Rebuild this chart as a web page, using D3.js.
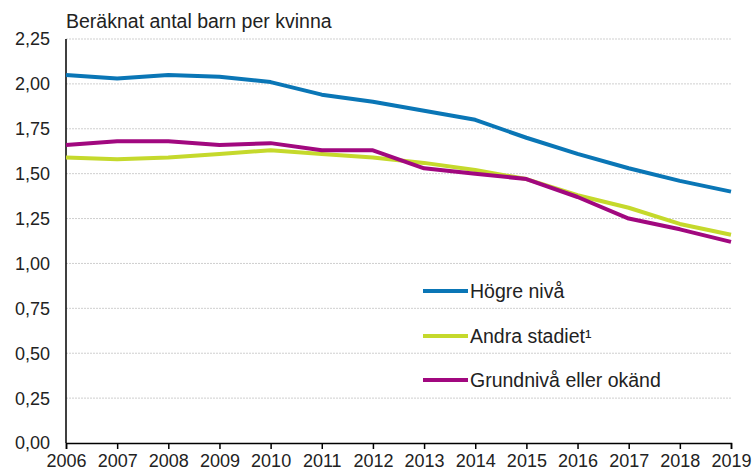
<!DOCTYPE html>
<html>
<head>
<meta charset="utf-8">
<script src="https://cdn.jsdelivr.net/npm/d3@7"></script>
<style>
  body { margin: 0; background: #fff; }
  text { font-family: "Liberation Sans", Arial, sans-serif; fill: #222; }
</style>
</head>
<body>
<svg id="chart"></svg>
<script>
var width = 755, height = 474

var years = [2006, 2007, 2008, 2009, 2010, 2011, 2012, 2013, 2014, 2015, 2016, 2017, 2018, 2019]
var hogre = [2.05, 2.03, 2.05, 2.04, 2.01, 1.94, 1.90, 1.85, 1.80, 1.70, 1.61, 1.53, 1.46, 1.40]
var andra = [1.59, 1.58, 1.59, 1.61, 1.63, 1.61, 1.59, 1.56, 1.52, 1.47, 1.38, 1.31, 1.22, 1.16]
var grund = [1.66, 1.68, 1.68, 1.66, 1.67, 1.63, 1.63, 1.53, 1.50, 1.47, 1.37, 1.25, 1.19, 1.12]
var seriesNames = ["Högre nivå", "Andra stadiet¹", "Grundnivå eller okänd"]
var seriesColors = ["#0a76b6", "#c5d92c", "#a1087f"]
var yTicks = [0, 0.25, 0.5, 0.75, 1, 1.25, 1.5, 1.75, 2, 2.25]

var svg = d3.select("#chart")
    .attr("width", width)
    .attr("height", height)

var x = d3.scaleLinear()
    .domain([2006, 2019])
    .range([66, 731])

var y = d3.scaleLinear()
    .domain([0, 2.25])
    .range([443, 39])

var fmt = function (d) { return d3.format(".2f")(d).replace(".", ",") }

// grid
svg.append("g")
    .selectAll("line")
    .data(yTicks.slice(1))
    .enter()
    .append("line")
    .attr("x1", 66)
    .attr("x2", 731)
    .attr("y1", d => y(d))
    .attr("y2", d => y(d))
    .attr("stroke", "#cfcfcf")
    .attr("stroke-width", 1)
    .attr("stroke-dasharray", "2,1")

// y labels
svg.append("g")
    .selectAll("text")
    .data(yTicks)
    .enter()
    .append("text")
    .attr("x", 50)
    .attr("y", d => y(d))
    .attr("dy", "0.36em")
    .attr("text-anchor", "end")
    .style("font-size", "18px")
    .text(fmt)

// x axis
var xAxis = svg.append("g")
    .attr("transform", "translate(0,443)")
    .call(d3.axisBottom(x).tickValues(years).tickFormat(d3.format("d")).tickSize(6).tickPadding(5))
xAxis.select(".domain").attr("stroke", "#000").attr("stroke-width", 1.5)
xAxis.selectAll(".tick line").attr("stroke", "#000").attr("stroke-width", 1.5)
xAxis.selectAll("text")
    .style("font-size", "18px")
    .style("font-family", "Liberation Sans, Arial, sans-serif")
    .attr("fill", "#222")

// y axis line
svg.append("line")
    .attr("x1", 66).attr("x2", 66)
    .attr("y1", y(2.25)).attr("y2", y(0))
    .attr("stroke", "#000")
    .attr("stroke-width", 1.5)

// title
svg.append("text")
    .attr("x", 66)
    .attr("y", 28)
    .style("font-size", "19.5px")
    .text("Beräknat antal barn per kvinna")

var line = d3.line()
    .x((d, i) => x(years[i]))
    .y(d => y(d))

var data = [hogre, andra, grund]

// green first so purple and blue sit above it
var order = [1, 2, 0]
order.forEach(function (k) {
    svg.append("path")
        .datum(data[k])
        .attr("d", line)
        .attr("fill", "none")
        .attr("stroke", seriesColors[k])
        .attr("stroke-width", 4)
        .attr("stroke-linejoin", "round")
})

// legend
var legendY = [291, 336, 380]
var legend = svg.append("g")
    .selectAll("g")
    .data(seriesNames)
    .enter()
    .append("g")
    .attr("transform", (d, i) => "translate(0," + legendY[i] + ")")

legend.append("line")
    .attr("x1", 423).attr("x2", 468)
    .attr("stroke", (d, i) => seriesColors[i])
    .attr("stroke-width", 4)

legend.append("text")
    .attr("x", 470)
    .attr("dy", "0.36em")
    .style("font-size", "19.5px")
    .text(d => d)
</script>
</body>
</html>
